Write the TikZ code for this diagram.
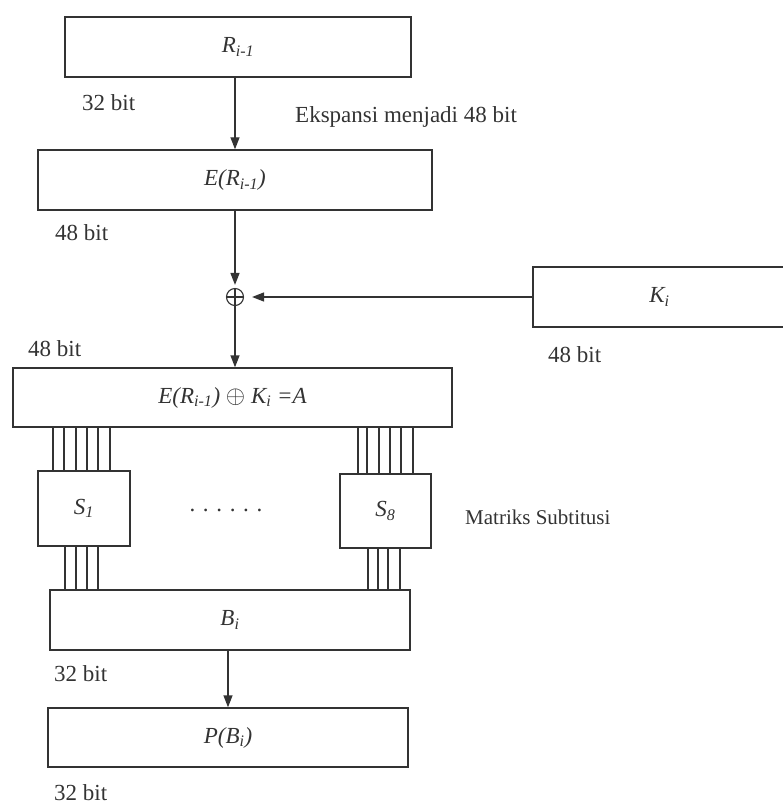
\documentclass[tikz,border=0pt]{standalone}
\usepackage{fontspec}
\setmainfont{Liberation Serif}
\usepackage{xcolor}
\definecolor{cInk}{HTML}{333333}
\usepackage{tikz}
\usetikzlibrary{positioning,arrows.meta}
\tikzset{
  blok/.style={draw=cInk,line width=1.4pt,minimum height=60pt,inner sep=0pt,
    font=\fontsize{23}{27}\selectfont\itshape,text=cInk},
  sbox/.style={blok,minimum width=92pt,minimum height=75pt},
  xorsym/.style={circle,draw=cInk,line width=1.1pt,minimum size=17pt,inner sep=0pt,
    path picture={\draw[cInk,line width=1.1pt]
      (path picture bounding box.north) -- (path picture bounding box.south)
      (path picture bounding box.west) -- (path picture bounding box.east);}},
  lbl/.style={font=\fontsize{23}{27}\selectfont,text=cInk,inner sep=0pt,anchor=west},
  arrow/.style={-{Triangle[length=12pt,width=9pt]},line width=1.4pt,draw=cInk},
  wire/.style={line width=1.2pt,draw=cInk},
}

\begin{document}
\begin{tikzpicture}[x=1pt,y=-1pt]
  \useasboundingbox (0,0) rectangle (783,805);
  % blok utama
  \node[blok,minimum width=346pt] (rprev) at (238,47) {R\textsubscript{i-1}};
  \node[blok,minimum width=394pt] (eexp) at (235,180) {E(R\textsubscript{i-1})};
  \node[xorsym] (xorop) at (235,297) {};
  \node[blok,minimum width=253pt] (kkey) at (659.5,297) {K\textsubscript{i}};
  \node[blok,minimum width=439pt,minimum height=59pt] (aval) at (232.5,397.5)
    {E(R\textsubscript{i-1}) $\oplus$ K\textsubscript{i} =A};
  \node[sbox] (sone) at (84,508.5) {S\textsubscript{1}};
  \node[sbox,minimum width=91pt,minimum height=74pt] (seight) at (385.5,511) {S\textsubscript{8}};
  \node[blok,minimum width=360pt] (bout) at (230,620) {B\textsubscript{i}};
  \node[blok,minimum width=360pt,minimum height=59pt] (pout) at (228,737.5) {P(B\textsubscript{i})};
  \node[lbl,anchor=center] (sdots) at (226,510) {. . . . . .};
  % keterangan
  \node[lbl] (lblr) at (82,103) {32 bit};
  \node[lbl] (lblexp) at (295,117) {Ekspansi menjadi 48 bit};
  \node[lbl] (lble) at (55,233) {48 bit};
  \node[lbl] (lbla) at (28,349) {48 bit};
  \node[lbl] (lblk) at (548,355) {48 bit};
  \node[lbl,font=\fontsize{21}{25}\selectfont] (lbls) at (465,517) {Matriks Subtitusi};
  \node[lbl] (lblb) at (54,674) {32 bit};
  \node[lbl] (lblp) at (54,793) {32 bit};
  % panah
  \draw[arrow] (eexp.north |- rprev.south) -- (eexp.north);
  \draw[arrow] (eexp) -- ([yshift=3pt]xorop.north);
  \draw[arrow] (kkey) -- ([xshift=8pt]xorop.east);
  \draw[arrow] (xorop.south) -- (xorop |- aval.north);
  \draw[arrow] (pout.north |- bout.south) -- (pout.north);
  % kabel S-box
  \foreach \xx in {53,64,76,87,98,110}
    \draw[wire] (\xx,0 |- aval.south) -- (\xx,0 |- sone.north);
  \foreach \xx in {358,367,379,390,401,413}
    \draw[wire] (\xx,0 |- aval.south) -- (\xx,0 |- seight.north);
  \foreach \xx in {65,76,87,98}
    \draw[wire] (\xx,0 |- sone.south) -- (\xx,0 |- bout.north);
  \foreach \xx in {368,378,388,400}
    \draw[wire] (\xx,0 |- seight.south) -- (\xx,0 |- bout.north);
\end{tikzpicture}
\end{document}
